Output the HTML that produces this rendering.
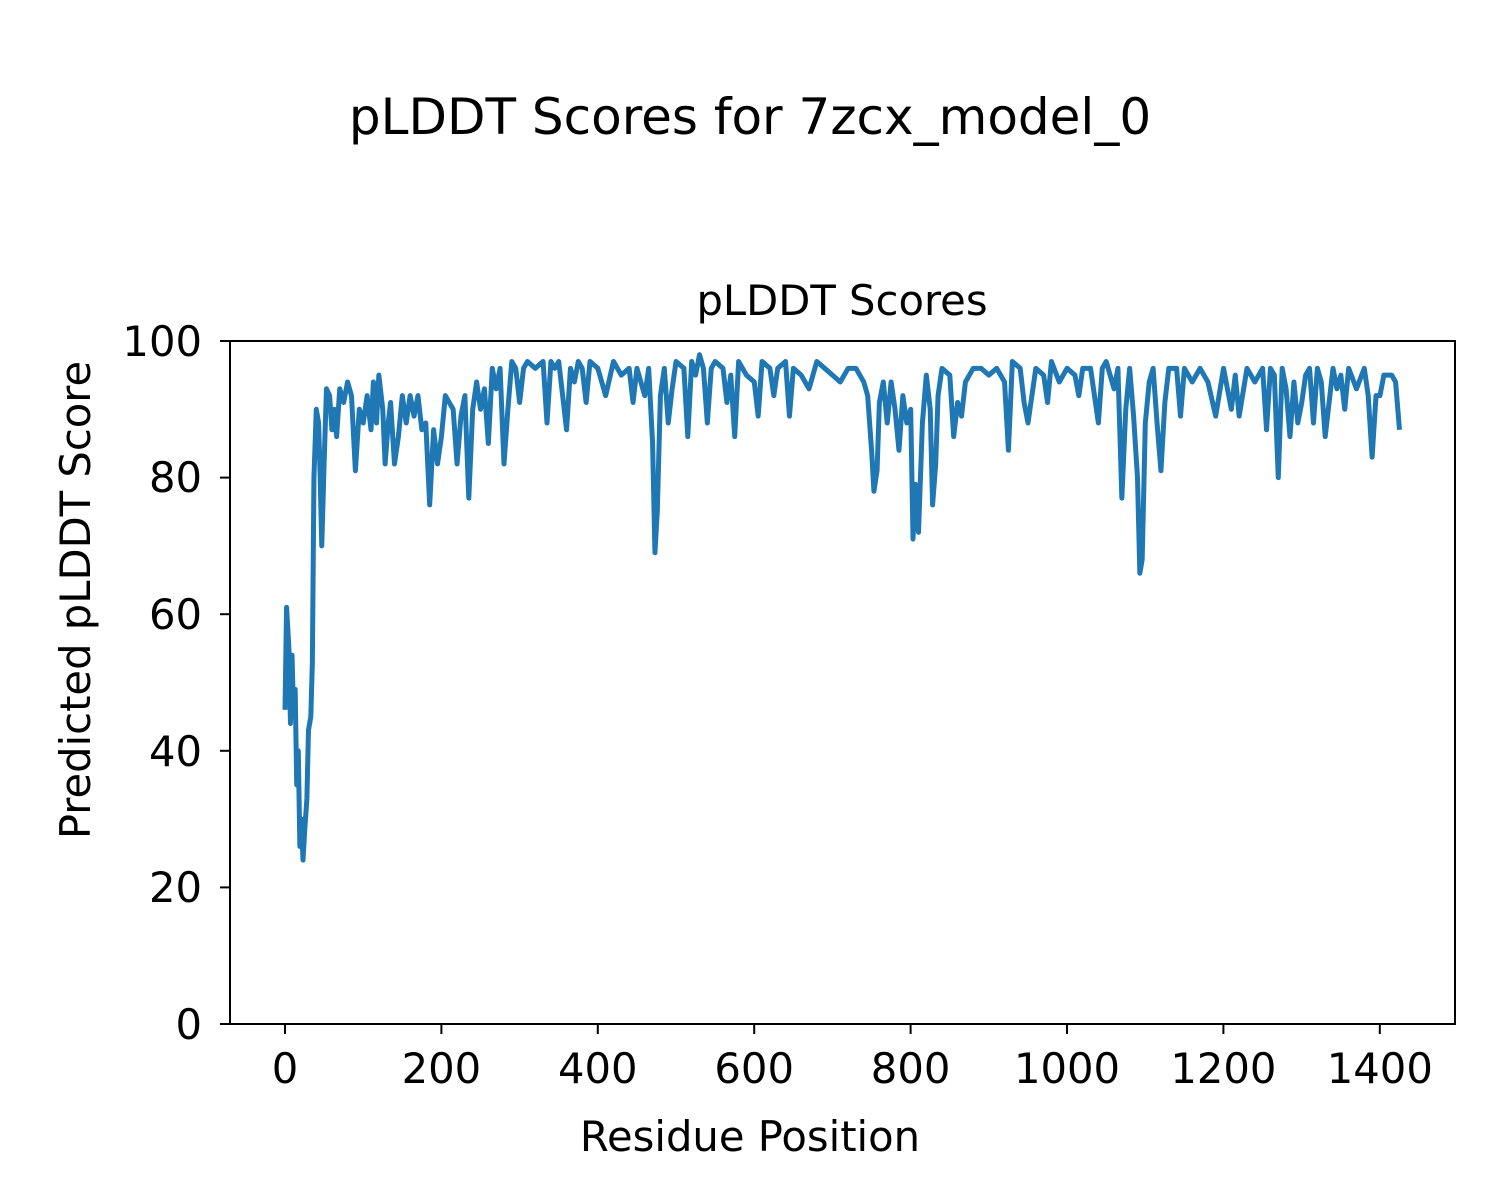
<!DOCTYPE html>
<html><head><meta charset="utf-8"><style>
html,body{margin:0;padding:0;background:#fff;}
svg{display:block;font-family:"DejaVu Sans","Liberation Sans",sans-serif;}
</style></head><body>
<svg width="1500" height="1200" viewBox="0 0 1500 1200" xmlns="http://www.w3.org/2000/svg">
<rect width="1500" height="1200" fill="#fff"/>
<text x="750" y="134" font-size="50" text-anchor="middle">pLDDT Scores for 7zcx_model_0</text>
<text x="842" y="315" font-size="41.7" text-anchor="middle">pLDDT Scores</text>
<g transform="translate(285,1024) scale(0.7821,-6.83)">
<polyline fill="none" stroke="#1f77b4" stroke-width="5" stroke-linejoin="round" vector-effect="non-scaling-stroke" points="0,46 2,61 5,55 7,44 9,54 11,45 13,49 15,35 17,40 19,26 21,30 23,24 25,28 28,33 30,43 33,45 35,53 37,80 40,90 43,88 45,80 47,70 50,82 53,93 57,92 60,87 63,90 66,86 70,93 75,91 80,94 85,92 90,81 95,90 100,88 105,92 110,87 113,94 117,88 120,95 125,90 128,82 132,88 135,91 140,82 145,86 150,92 155,88 160,92 165,89 170,92 175,87 180,88 185,76 190,87 195,82 200,86 205,92 210,91 215,90 220,82 225,89 230,92 235,77 240,90 245,94 250,90 255,93 260,85 265,96 270,93 275,96 280,82 285,90 290,97 295,96 300,91 305,96 310,97 320,96 330,97 335,88 340,97 345,96 350,97 355,92 360,87 365,96 370,94 375,97 380,96 385,91 390,97 400,96 410,92 420,97 430,95 440,96 445,91 450,96 460,92 465,96 470,85 473,69 476,75 480,92 485,96 490,88 495,93 500,97 510,96 515,86 520,97 525,95 530,98 535,96 540,88 545,96 550,97 560,96 565,91 570,95 575,86 580,97 590,95 600,94 605,89 610,97 620,96 625,92 630,96 640,97 645,89 650,96 660,95 670,93 680,97 690,96 700,95 710,94 720,96 730,96 740,94 745,92 750,84 753,78 757,81 760,91 765,94 770,88 775,94 780,90 785,84 790,92 795,88 800,90 803,71 806,79 810,72 815,88 820,95 825,90 828,76 832,82 835,92 840,96 850,95 855,86 860,91 865,89 870,94 880,96 890,96 900,95 910,96 920,94 925,84 930,97 940,96 945,91 950,88 960,96 970,95 975,91 980,97 990,94 1000,96 1010,95 1015,92 1020,96 1030,96 1040,88 1045,96 1050,97 1060,93 1065,96 1070,77 1075,90 1080,96 1085,89 1090,80 1093,66 1096,68 1100,88 1105,94 1110,96 1115,88 1120,81 1125,91 1130,96 1140,96 1145,89 1150,96 1160,94 1170,96 1180,94 1190,89 1200,96 1210,90 1215,95 1220,89 1230,96 1240,94 1250,96 1255,87 1260,96 1265,95 1270,80 1275,96 1280,93 1285,86 1290,94 1295,88 1300,91 1305,95 1310,96 1315,88 1320,96 1325,94 1330,86 1340,96 1345,93 1350,95 1355,90 1360,96 1370,93 1380,96 1385,92 1390,83 1395,92 1400,92 1405,95 1415,95 1420,94 1425,87"/>
</g>
<rect x="230" y="341" width="1225" height="683" fill="none" stroke="#000" stroke-width="2"/>
<g stroke="#000" stroke-width="2">
<line x1="285" y1="1024" x2="285" y2="1034"/><line x1="441.4" y1="1024" x2="441.4" y2="1034"/><line x1="597.8" y1="1024" x2="597.8" y2="1034"/><line x1="754.2" y1="1024" x2="754.2" y2="1034"/><line x1="910.6" y1="1024" x2="910.6" y2="1034"/><line x1="1067" y1="1024" x2="1067" y2="1034"/><line x1="1223.4" y1="1024" x2="1223.4" y2="1034"/><line x1="1379.8" y1="1024" x2="1379.8" y2="1034"/>
<line x1="220" y1="1024" x2="230" y2="1024"/><line x1="220" y1="887.4" x2="230" y2="887.4"/><line x1="220" y1="750.8" x2="230" y2="750.8"/><line x1="220" y1="614.2" x2="230" y2="614.2"/><line x1="220" y1="477.6" x2="230" y2="477.6"/><line x1="220" y1="341" x2="230" y2="341"/>
</g>
<g font-size="41.7" text-anchor="middle">
<text x="285" y="1083">0</text><text x="441.4" y="1083">200</text><text x="597.8" y="1083">400</text><text x="754.2" y="1083">600</text><text x="910.6" y="1083">800</text><text x="1067" y="1083">1000</text><text x="1223.4" y="1083">1200</text><text x="1379.8" y="1083">1400</text>
</g>
<g font-size="41.7" text-anchor="end">
<text x="202" y="1039">0</text><text x="202" y="902">20</text><text x="202" y="766">40</text><text x="202" y="629">60</text><text x="202" y="492">80</text><text x="202" y="356">100</text>
</g>
<text x="750" y="1151" font-size="41.7" text-anchor="middle">Residue Position</text>
<text transform="translate(90,600) rotate(-90)" font-size="41.7" text-anchor="middle">Predicted pLDDT Score</text>
</svg>
</body></html>
